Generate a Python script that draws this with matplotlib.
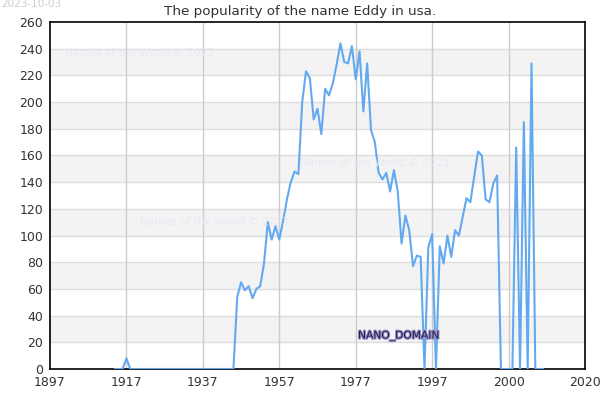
import numpy as np
import matplotlib
matplotlib.use("Agg")
import matplotlib.pyplot as plt
import matplotlib.patheffects as pe

# ---- data ----
tick_labels = ["1897", "1917", "1937", "1957", "1977", "1997", "2000", "2020"]
first_index = 17
values = [0, 0, 0, 8] + [0] * 28 + [
    54, 65, 59, 62, 53, 60, 62, 79, 110, 97, 107, 97, 111, 127, 140, 148, 146,
    200, 223, 218, 187, 195, 176, 210, 205, 214, 228, 244, 230, 229, 242, 217,
    238, 193, 229, 179, 170, 147, 142, 147, 133, 149, 133, 94, 115, 104, 77, 85,
    84, 0, 91, 101, 0, 92, 79, 100, 84, 104, 100, 114, 128, 125, 144, 163, 160,
    127, 125, 139, 145, 0, 0, 0, 0, 166, 0, 185, 0, 229, 0, 0, 0]
y_ticks = list(range(0, 261, 20))
title = "The popularity of the name Eddy in usa."
watermark = "Names of the World \u00a9 2023"

x = np.arange(first_index, first_index + len(values))
tick_pos = np.arange(0, 20 * len(tick_labels), 20)

fig = plt.figure(figsize=(6, 4), dpi=100)
ax = fig.add_axes([50 / 600, 31 / 400, 535 / 600, 347 / 400])

# alternating bands
for lo in range(20, 260, 40):
    ax.axhspan(lo, lo + 20, color="#f3f3f3", zorder=0, lw=0)
for yv in y_ticks[1:-1]:
    ax.axhline(yv, color="#dddddd", lw=1, zorder=1)
for xv in tick_pos[1:-1]:
    ax.axvline(xv, color="#cccccc", lw=1, zorder=1)

ax.plot(x, values, color="#63a9f0", lw=1.5, zorder=3)

ax.set_xlim(tick_pos[0], tick_pos[-1])
ax.set_ylim(0, 260)
ax.set_xticks(tick_pos)
ax.set_xticklabels(tick_labels)
ax.set_yticks(y_ticks)
ax.tick_params(length=0, labelsize=9, colors="#333333", pad=5)
for s in ax.spines.values():
    s.set_color("black")
    s.set_linewidth(1.2)

fig.text(0.5, 1 - 11 / 400, title, ha="center", va="center", fontsize=9.7, color="#333333")
fig.text(1 / 600, 1 - 4 / 400, "2023-10-03", ha="left", va="center", fontsize=7.5, color="#cccccc")

for (px, py) in [(65, 53), (140, 222), (300, 163)]:
    fig.text(px / 600, 1 - py / 400, watermark, ha="left", va="center",
             fontsize=7.6, color="#e9e9f6", zorder=2)

t = fig.text(358 / 600, 1 - 336 / 400, "NANO_DOMAIN", ha="left", va="center",
             fontsize=7.7, color="#1c1c44", zorder=5)
t.set_path_effects([pe.withStroke(linewidth=1.6, foreground="#9a90c8")])

fig.savefig("out.png", dpi=100)
